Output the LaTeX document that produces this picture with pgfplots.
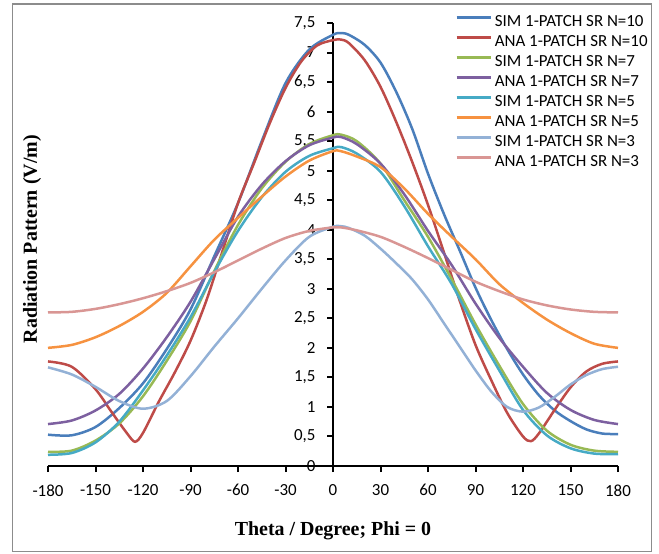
\documentclass[border=0pt]{standalone}
\usepackage{fontspec}
\setmainfont{Carlito}
\newfontfamily\tnr{Liberation Serif}
\usepackage{pgfplots}
\pgfplotsset{compat=1.18}
\definecolor{cA}{HTML}{4A7EBB}
\definecolor{cB}{HTML}{BE4B48}
\definecolor{cC}{HTML}{98B954}
\definecolor{cD}{HTML}{7D60A0}
\definecolor{cE}{HTML}{46AAC5}
\definecolor{cF}{HTML}{F69240}
\definecolor{cG}{HTML}{93B1D6}
\definecolor{cH}{HTML}{D99694}
\begin{document}
\begin{tikzpicture}
\useasboundingbox (-48bp,-88bp) rectangle (611bp,466bp);
\draw[black!45, line width=1.2bp] (-35.3bp,-85.7bp) rectangle (603.7bp,462bp);
\begin{axis}[
 at={(0,0)}, anchor=south west, scale only axis, width=570bp, height=443bp,
 xmin=-180, xmax=180, ymin=0, ymax=7.5,
 axis x line=bottom, axis y line=center,
 axis line style={-, line width=2.2bp, black},
 xtick={-180,-150,...,180}, ytick={0,0.5,...,7.5},
 tick style={black, line width=2bp},
 major tick length=6bp,
 xtick align=outside, ytick align=outside,
 hide obscured x ticks=false, hide obscured y ticks=false,
 /pgf/number format/assume math mode=true,
 /pgf/number format/use comma,
 ticklabel style={font=\fontsize{17}{20}\selectfont},
 xticklabel style={yshift=-9bp},
 yticklabel style={xshift=-8bp},
 every axis x label/.style={at={(axis description cs:0.5,-0.157)}, anchor=base},
 every axis y label/.style={at={(axis description cs:-0.028,0.512)}, anchor=center, rotate=90},
 xlabel={\tnr\bfseries Theta / Degree; Phi = 0},
 ylabel={\tnr\bfseries Radiation Pattern (V/m)},
 label style={font=\fontsize{20}{24}\selectfont},
 legend style={at={(axis description cs:0.709,1.0226)}, anchor=north west, draw=none, fill=none,
   font=\fontsize{17}{20}\selectfont, row sep=7.5bp, nodes={inner sep=0bp}},
 /tikz/every odd column/.append style={column sep=3bp},
 legend cell align=left,
 legend image code/.code={\draw[#1] (0bp,4bp) -- (34bp,4bp);},
 every axis plot/.append style={line width=2.5bp, smooth},
 clip=false,
]
\addplot[cA] coordinates {(-180,0.53) (-165,0.52) (-150,0.66) (-135,0.98) (-120,1.40) (-105,1.98) (-90,2.65) (-75,3.55) (-60,4.45) (-45,5.50) (-30,6.48) (-15,7.05) (0,7.30) (5,7.33) (10,7.30) (20,7.13) (30,6.83) (40,6.33) (50,5.71) (60,4.95) (70,4.27) (80,3.65) (90,3.02) (100,2.47) (110,1.98) (120,1.55) (130,1.20) (140,0.94) (150,0.76) (160,0.62) (170,0.55) (180,0.54)};
\addlegendentry{SIM 1-PATCH SR N=10}
\addplot[cB] coordinates {(-180,1.77) (-165,1.68) (-150,1.30) (-140,0.92) (-130,0.55) (-125,0.41) (-120,0.56) (-110,1.09) (-100,1.58) (-90,2.12) (-80,2.80) (-70,3.62) (-60,4.45) (-50,5.12) (-40,5.80) (-30,6.40) (-20,6.85) (-10,7.12) (0,7.21) (5,7.22) (10,7.16) (20,6.87) (30,6.42) (40,5.82) (50,5.15) (60,4.42) (70,3.62) (80,2.80) (90,2.05) (100,1.45) (110,0.90) (120,0.50) (125,0.42) (130,0.55) (140,0.95) (150,1.33) (160,1.60) (170,1.73) (180,1.77)};
\addlegendentry{ANA 1-PATCH SR N=10}
\addplot[cC] coordinates {(-180,0.24) (-165,0.26) (-150,0.43) (-135,0.72) (-120,1.18) (-105,1.78) (-90,2.45) (-75,3.30) (-60,4.08) (-45,4.70) (-30,5.15) (-15,5.45) (0,5.60) (5,5.61) (15,5.50) (30,5.12) (45,4.50) (60,3.88) (75,3.16) (90,2.40) (105,1.70) (120,1.05) (135,0.60) (150,0.36) (165,0.26) (180,0.24)};
\addlegendentry{SIM 1-PATCH SR N=7}
\addplot[cD] coordinates {(-180,0.71) (-165,0.77) (-150,0.94) (-135,1.22) (-120,1.65) (-105,2.18) (-90,2.78) (-75,3.50) (-60,4.22) (-45,4.76) (-30,5.16) (-15,5.43) (0,5.56) (5,5.57) (15,5.45) (30,5.12) (45,4.60) (60,3.98) (75,3.40) (90,2.75) (105,2.17) (120,1.68) (135,1.24) (150,0.95) (165,0.78) (180,0.71)};
\addlegendentry{ANA 1-PATCH SR N=7}
\addplot[cE] coordinates {(-180,0.19) (-165,0.22) (-150,0.40) (-135,0.75) (-120,1.28) (-105,1.87) (-90,2.52) (-75,3.28) (-60,3.98) (-45,4.55) (-30,4.98) (-15,5.25) (0,5.38) (5,5.40) (15,5.29) (30,4.98) (45,4.40) (60,3.72) (75,3.08) (90,2.32) (105,1.62) (120,0.95) (135,0.52) (150,0.30) (165,0.21) (180,0.20)};
\addlegendentry{SIM 1-PATCH SR N=5}
\addplot[cF] coordinates {(-180,2.00) (-165,2.05) (-150,2.18) (-135,2.37) (-120,2.61) (-105,2.93) (-90,3.38) (-75,3.83) (-60,4.20) (-45,4.56) (-30,4.90) (-15,5.17) (0,5.33) (5,5.33) (15,5.24) (30,5.06) (45,4.70) (60,4.27) (75,3.88) (90,3.50) (105,3.08) (120,2.76) (135,2.48) (150,2.25) (165,2.07) (180,2.00)};
\addlegendentry{ANA 1-PATCH SR N=5}
\addplot[cG] coordinates {(-180,1.67) (-165,1.55) (-150,1.34) (-135,1.10) (-120,0.97) (-105,1.10) (-90,1.52) (-75,2.02) (-60,2.50) (-45,3.00) (-30,3.48) (-15,3.88) (0,4.05) (5,4.06) (10,4.03) (20,3.90) (30,3.68) (40,3.43) (50,3.16) (60,2.82) (70,2.42) (80,2.02) (90,1.62) (100,1.26) (110,1.00) (120,0.92) (130,0.99) (140,1.17) (150,1.38) (160,1.54) (170,1.64) (180,1.68)};
\addlegendentry{SIM 1-PATCH SR N=3}
\addplot[cH] coordinates {(-180,2.60) (-165,2.61) (-150,2.66) (-135,2.74) (-120,2.84) (-105,2.96) (-90,3.10) (-75,3.28) (-60,3.48) (-45,3.68) (-30,3.86) (-15,3.98) (0,4.04) (5,4.04) (15,3.99) (30,3.88) (45,3.71) (60,3.52) (75,3.32) (90,3.12) (105,2.96) (120,2.82) (135,2.72) (150,2.65) (165,2.61) (180,2.60)};
\addlegendentry{ANA 1-PATCH SR N=3}
\end{axis}
\end{tikzpicture}
\end{document}
